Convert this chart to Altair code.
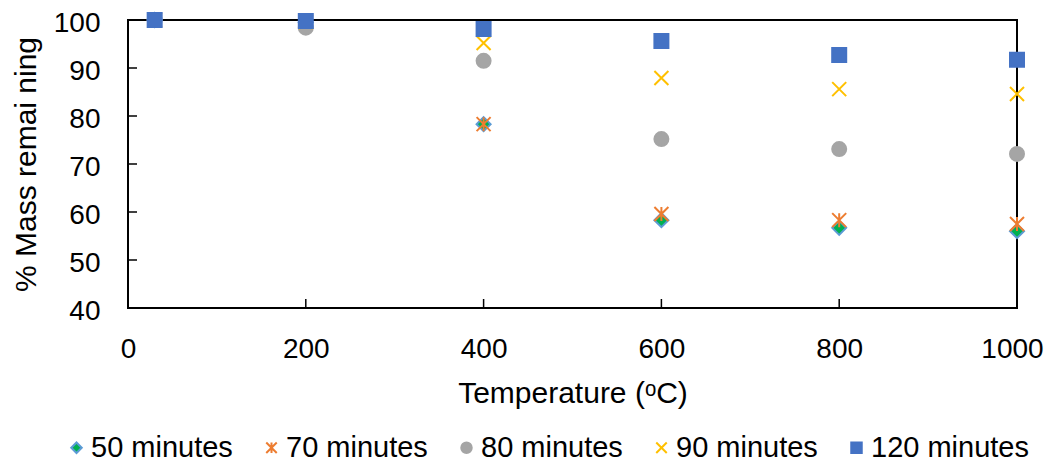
import altair as alt
import pandas as pd

temps = [30, 200, 400, 600, 800, 1000]
series_names = ["50 minutes", "70 minutes", "80 minutes", "90 minutes", "120 minutes"]
m50 = [100, 99.5, 78.3, 58.3, 56.7, 56.0]
m70 = [100, 99.5, 78.3, 59.6, 58.3, 57.5]
m80 = [100, 98.4, 91.5, 75.2, 73.1, 72.1]
m90 = [100, 99.6, 95.2, 87.9, 85.6, 84.6]
m120 = [100, 99.8, 98.1, 95.6, 92.7, 91.7]

x_ticks = [0, 200, 400, 600, 800, 1000]
y_ticks = [40, 50, 60, 70, 80, 90, 100]

stroke_colors = ["#5B9BD5", "#ED7D31", "#A5A5A5", "#FFC000", "#4472C4"]
fill_colors = ["#00B050", "#ED7D31", "#A5A5A5", "#FFC000", "#4472C4"]
shapes = [
    "diamond",
    "M-1,-1L1,1M-1,1L1,-1M0,-1L0,1",
    "circle",
    "M-1,-1L1,1M-1,1L1,-1",
    "square",
]

rows = []
for name, vals in zip(series_names, [m50, m70, m80, m90, m120]):
    for t, v in zip(temps, vals):
        rows.append({"T": t, "Mass": v, "Series": name})
df = pd.DataFrame(rows)

FONT = "Liberation Sans"

xscale = alt.Scale(domain=[0, 1000], nice=False, zero=False)
yscale = alt.Scale(domain=[40, 100], nice=False, zero=False)

x_axis = alt.Axis(values=x_ticks, format="d", title="Temperature (ᵒC)", domain=False,
                  ticks=False, tickSize=0, grid=False, labelPadding=27,
                  labelOffset={"condition": {"test": "datum.value == 1000", "value": -5}, "value": 0},
                  titlePadding=15, labelFontSize=28, titleFontSize=30,
                  labelColor="black", titleColor="black", labelFont=FONT,
                  titleFont=FONT, titleFontWeight="normal", labelFlush=False)
y_axis = alt.Axis(values=y_ticks, format="d", title="% Mass remai ning", domain=False,
                  ticks=False, tickSize=0, grid=False, labelPadding=28, labelOffset=3,
                  titlePadding=12, labelFontSize=28, titleFontSize=30,
                  labelColor="black", titleColor="black", labelFont=FONT,
                  titleFont=FONT, titleFontWeight="normal", labelFlush=False)

points = alt.Chart(df).mark_point(filled=False, size=196, strokeWidth=2, opacity=1).encode(
    x=alt.X("T:Q", scale=xscale, axis=x_axis),
    y=alt.Y("Mass:Q", scale=yscale, axis=y_axis),
    color=alt.Color("Series:N", sort=series_names,
                    scale=alt.Scale(domain=series_names, range=stroke_colors),
                    legend=alt.Legend(orient="none", direction="horizontal", columns=5,
                                      title=None, legendX=-66, legendY=413,
                                      labelFontSize=29, labelFont=FONT, labelColor="black",
                                      labelLimit=400,
                                      symbolSize=110, symbolStrokeWidth=2, labelOffset=0,
                                      columnPadding=24, padding=0)),
    fill=alt.Fill("Series:N", sort=series_names,
                  scale=alt.Scale(domain=series_names, range=fill_colors)),
    shape=alt.Shape("Series:N", sort=series_names,
                    scale=alt.Scale(domain=series_names, range=shapes)),
)

xt = pd.DataFrame({"T": x_ticks, "Mass": [40] * len(x_ticks)})
yt = pd.DataFrame({"Mass": y_ticks, "T": [0] * len(y_ticks)})

xtick_layer = alt.Chart(xt).mark_tick(orient="vertical", size=18, thickness=1.5,
                                      color="black", opacity=1, clip=True).encode(
    x=alt.X("T:Q", scale=xscale, axis=x_axis),
    y=alt.Y("Mass:Q", scale=yscale, axis=y_axis),
)
ytick_layer = alt.Chart(yt).mark_tick(orient="horizontal", size=18, thickness=1.5,
                                      color="black", opacity=1, clip=True).encode(
    x=alt.X("T:Q", scale=xscale, axis=x_axis),
    y=alt.Y("Mass:Q", scale=yscale, axis=y_axis),
)

chart = alt.layer(xtick_layer, ytick_layer, points).properties(
    width=889, height=288,
    background="white",
    autosize=alt.AutoSizeParams(type="none"),
    padding={"left": 120, "top": 12, "right": 30, "bottom": 155},
).configure_view(stroke="black", strokeWidth=2)

chart.save("out.html", embed_options={"renderer": "svg", "actions": False})
